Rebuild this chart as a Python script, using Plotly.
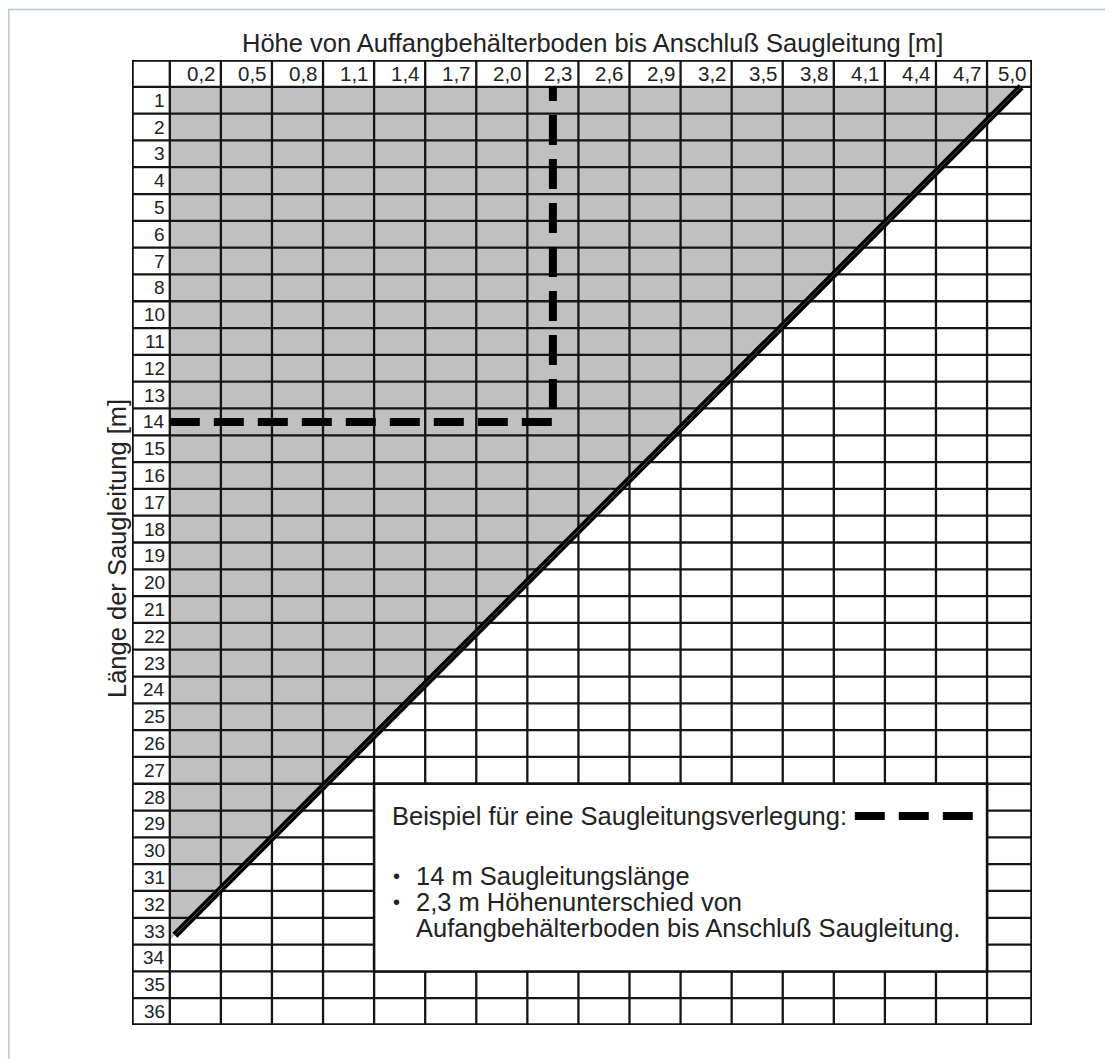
import numpy as np
import plotly.graph_objects as go

# Spaltenköpfe: Höhe [m]
hoehe_labels = ["0,2", "0,5", "0,8", "1,1", "1,4", "1,7", "2,0", "2,3", "2,6",
                "2,9", "3,2", "3,5", "3,8", "4,1", "4,4", "4,7", "5,0"]
# Zeilen: Länge der Saugleitung [m] (9 fehlt im Original)
laengen = [1, 2, 3, 4, 5, 6, 7, 8] + list(range(10, 37))

# Grenzlinie (Höhe [m], Länge [m])
grenze_hoehe = [5.05, 0.08]
grenze_laenge = [0.5, 33.15]

# Beispiel
beispiel_laenge = 14
beispiel_hoehe = 2.3

titel = "Höhe von Auffangbehälterboden bis Anschluß Saugleitung [m]"
y_titel = "Länge der Saugleitung [m]"
legende_kopf = "Beispiel für eine Saugleitungsverlegung:"
legende_punkte = ["14 m Saugleitungslänge", "2,3 m Höhenunterschied von"]
legende_zeile3 = "Aufangbehälterboden bis Anschluß Saugleitung."

n_col = len(hoehe_labels)
n_row = len(laengen)
x_left = -0.74          # Beschriftungsspalte
x_right = n_col - 1 + 0.88  # letzte Spalte etwas schmaler

row_centers = np.arange(n_row) + 1.5

# die Seite hat 8px Rand, daher Figur etwas kleiner
W, H = 1105, 1051
ML, MT, PW, PH = 124, 52, 900, 965


def hx(h):
    return (np.asarray(h, dtype=float) - 0.2) / 0.3 + 0.5


def ly(L):
    return np.interp(L, [0] + laengen, [0.5] + list(row_centers))


fig = go.Figure()

# graue Fläche oberhalb der Grenzlinie
gx = hx(grenze_hoehe)
gy = ly(grenze_laenge)
slope = (gy[1] - gy[0]) / (gx[1] - gx[0])
y_at0 = gy[1] + (0 - gx[1]) * slope
fig.add_trace(go.Scatter(x=[0, gx[0], 0, 0], y=[gy[0], gy[0], y_at0, gy[0]],
                         fill="toself", fillcolor="#c0c0c0", mode="none",
                         hoverinfo="skip", showlegend=False))

# Gitter
v_edges = [x_left] + list(range(0, n_col)) + [x_right]
gxs, gys = [], []
for v in v_edges[1:-1]:
    gxs += [v, v, None]
    gys += [0, n_row + 1, None]
for r in range(1, n_row + 1):
    gxs += [x_left, x_right, None]
    gys += [r, r, None]
fig.add_trace(go.Scatter(x=gxs, y=gys, mode="lines",
                         line=dict(color="#151515", width=2.3),
                         hoverinfo="skip", showlegend=False))
fig.add_trace(go.Scatter(x=[x_left, x_right, x_right, x_left, x_left],
                         y=[0, 0, n_row + 1, n_row + 1, 0], mode="lines",
                         line=dict(color="#111111", width=3.5),
                         hoverinfo="skip", showlegend=False))

# Grenzlinie (Doppellinie)
fig.add_trace(go.Scatter(x=gx, y=gy, mode="lines",
                         line=dict(color="#000000", width=7),
                         hoverinfo="skip", showlegend=False))
fig.add_trace(go.Scatter(x=gx, y=gy, mode="lines",
                         line=dict(color="#555555", width=1),
                         hoverinfo="skip", showlegend=False))

# Beispiel: gestrichelte Linie
bx = float(hx(beispiel_hoehe))
by = float(ly(beispiel_laenge))
fig.add_trace(go.Scatter(x=[0, bx, bx], y=[by, by, 1], mode="lines",
                         line=dict(color="#000000", width=8, dash="30px,14px"),
                         hoverinfo="skip", showlegend=False))

# Beschriftungen
annots = []
for i, lab in enumerate(hoehe_labels):
    right = i + 1 if i < n_col - 1 else x_right
    annots.append(dict(x=right - 0.06, y=0.5, text=lab, xanchor="right",
                       yanchor="middle", showarrow=False,
                       font=dict(size=20.5, color="#222")))
for i, L in enumerate(laengen):
    annots.append(dict(x=-0.06, y=row_centers[i], text=str(L), xanchor="right",
                       yanchor="middle", showarrow=False,
                       font=dict(size=19, color="#222")))

annots.append(dict(xref="paper", yref="paper", x=(584 - ML) / PW,
                   y=(PH + MT - 35) / PH, text=titel, showarrow=False,
                   xanchor="center", yanchor="middle",
                   font=dict(size=25.5, color="#222")))
annots.append(dict(xref="paper", yref="paper", x=(109 - ML) / PW,
                   y=(PH + MT - 541) / PH, text=y_titel, showarrow=False,
                   textangle=-90, xanchor="center", yanchor="middle",
                   font=dict(size=25.5, color="#222")))

# Legendenkasten
shapes = [
    dict(type="rect", x0=4, x1=16, y0=27, y1=34, fillcolor="white",
         line=dict(color="#111", width=2.5), layer="above"),
    dict(type="line", x0=13.41, x1=15.76, y0=28.2, y1=28.2,
         line=dict(color="#000", width=8, dash="30px,14px"), layer="above"),
    dict(type="rect", xref="paper", yref="paper", x0=(0.8 - ML) / PW,
         x1=1.3, y0=-0.3, y1=(PH + MT - 1.5) / PH,
         line=dict(color="#b9c5d9", width=1.5), layer="below"),
]
annots.append(dict(x=4.31, y=28.2, text=legende_kopf, xanchor="left",
                   yanchor="middle", showarrow=False,
                   font=dict(size=25.5, color="#222")))
for k, (txt, yy) in enumerate(zip(legende_punkte, [30.45, 31.42])):
    annots.append(dict(x=4.33, y=yy, text="•", xanchor="left", yanchor="middle",
                       showarrow=False, font=dict(size=20, color="#222")))
    annots.append(dict(x=4.78, y=yy, text=txt, xanchor="left", yanchor="middle",
                       showarrow=False, font=dict(size=25.5, color="#222")))
annots.append(dict(x=4.78, y=32.39, text=legende_zeile3, xanchor="left",
                   yanchor="middle", showarrow=False,
                   font=dict(size=25.5, color="#222")))

fig.update_layout(
    width=W, height=H, autosize=False,
    margin=dict(l=ML, r=W - ML - PW, t=MT, b=H - MT - PH),
    paper_bgcolor="white", plot_bgcolor="white",
    font=dict(family="Liberation Sans, Arial, sans-serif"),
    xaxis=dict(range=[x_left, x_right], visible=False, fixedrange=True),
    yaxis=dict(range=[n_row + 1, 0], visible=False, fixedrange=True),
    annotations=annots, shapes=shapes, showlegend=False,
)

fig.write_html("out.html")
